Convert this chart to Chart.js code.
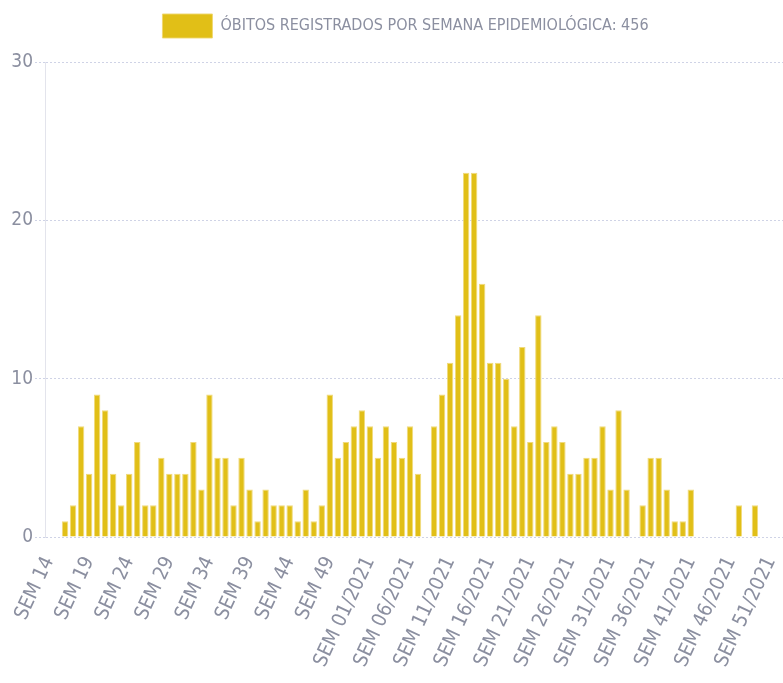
<!DOCTYPE html>
<html>
<head>
<meta charset="utf-8">
<script src="https://cdn.jsdelivr.net/npm/chart.js@4.4.1/dist/chart.umd.min.js"></script>
<style>
  html, body { margin: 0; padding: 0; background: #fff; overflow: hidden; }
</style>
</head>
<body>
<canvas id="myChart" width="783" height="683"></canvas>
<script>
// semanas epidemiológicas (2020 tem 53 semanas)
const weeks = [
  'SEM 14', 'SEM 15', 'SEM 16', 'SEM 17', 'SEM 18', 'SEM 19', 'SEM 20', 'SEM 21', 'SEM 22', 'SEM 23',
  'SEM 24', 'SEM 25', 'SEM 26', 'SEM 27', 'SEM 28', 'SEM 29', 'SEM 30', 'SEM 31', 'SEM 32', 'SEM 33',
  'SEM 34', 'SEM 35', 'SEM 36', 'SEM 37', 'SEM 38', 'SEM 39', 'SEM 40', 'SEM 41', 'SEM 42', 'SEM 43',
  'SEM 44', 'SEM 45', 'SEM 46', 'SEM 47', 'SEM 48', 'SEM 49', 'SEM 50', 'SEM 51', 'SEM 52', 'SEM 53',
  'SEM 01/2021', 'SEM 02/2021', 'SEM 03/2021', 'SEM 04/2021', 'SEM 05/2021', 'SEM 06/2021',
  'SEM 07/2021', 'SEM 08/2021', 'SEM 09/2021', 'SEM 10/2021', 'SEM 11/2021', 'SEM 12/2021',
  'SEM 13/2021', 'SEM 14/2021', 'SEM 15/2021', 'SEM 16/2021', 'SEM 17/2021', 'SEM 18/2021',
  'SEM 19/2021', 'SEM 20/2021', 'SEM 21/2021', 'SEM 22/2021', 'SEM 23/2021', 'SEM 24/2021',
  'SEM 25/2021', 'SEM 26/2021', 'SEM 27/2021', 'SEM 28/2021', 'SEM 29/2021', 'SEM 30/2021',
  'SEM 31/2021', 'SEM 32/2021', 'SEM 33/2021', 'SEM 34/2021', 'SEM 35/2021', 'SEM 36/2021',
  'SEM 37/2021', 'SEM 38/2021', 'SEM 39/2021', 'SEM 40/2021', 'SEM 41/2021', 'SEM 42/2021',
  'SEM 43/2021', 'SEM 44/2021', 'SEM 45/2021', 'SEM 46/2021', 'SEM 47/2021', 'SEM 48/2021',
  'SEM 49/2021', 'SEM 50/2021', 'SEM 51/2021', 'SEM 52/2021'
];

const obitos = [
  0, 0, 1, 2, 7, 4, 9, 8, 4, 2,
  4, 6, 2, 2, 5, 4, 4, 4, 6, 3,
  9, 5, 5, 2, 5, 3, 1, 3, 2, 2,
  2, 1, 3, 1, 2, 9, 5, 6, 7, 8,
  7, 5, 7, 6, 5, 7, 4, 0, 7, 9,
  11, 14, 23, 23, 16, 11, 11, 10, 7, 12,
  6, 14, 6, 7, 6, 4, 4, 5, 5, 7,
  3, 8, 3, 0, 2, 5, 5, 3, 1, 1,
  3, 0, 0, 0, 0, 0, 2, 0, 2, 0,
  0, 0
];

const yTicks = [0, 10, 20, 30];
const legendText = 'ÓBITOS REGISTRADOS POR SEMANA EPIDEMIOLÓGICA: 456';

const FONT = '"DejaVu Sans Condensed", "Liberation Sans Narrow", Roboto, sans-serif';
const GREY = '#8b8fa0';
const GOLD = '#e1bf17';

// move a legenda um pouco (o original não fica centrado no canvas)
const legendShift = {
    id: 'legendShift',
    afterLayout(chart) {
        const lg = chart.legend;
        lg.left += 14; lg.right += 14;
        lg.top -= 14; lg.bottom -= 14;
    }
};

const ctx = document.getElementById('myChart').getContext('2d');
const myChart = new Chart(ctx, {
    type: 'bar',
    data: {
        labels: weeks,
        datasets: [{
            label: legendText,
            data: obitos,
            backgroundColor: GOLD,
            borderColor: 'rgba(238, 214, 110, 0.9)',
            borderWidth: 1,
            categoryPercentage: 1,
            barPercentage: 0.8
        }]
    },
    plugins: [legendShift],
    options: {
        responsive: false,
        animation: false,
        layout: { padding: { left: 0, right: 0, top: 16, bottom: 0 } },
        plugins: {
            tooltip: { enabled: false },
            legend: {
                labels: {
                    boxWidth: 50,
                    boxHeight: 24,
                    padding: 12,
                    color: GREY,
                    font: { family: FONT, size: 16 }
                }
            }
        },
        scales: {
            x: {
                grid: { display: false },
                border: { display: false },
                ticks: {
                    autoSkip: false,
                    minRotation: 65,
                    maxRotation: 65,
                    padding: 8,
                    color: GREY,
                    font: { family: FONT, size: 20 },
                    callback: (v, i) => (i % 5 === 0 ? weeks[i] : '')
                },
                afterFit: (scale) => {
                    scale.height = 146;
                    scale.paddingLeft = 0;
                    scale.paddingRight = 0;
                }
            },
            y: {
                min: 0,
                max: 30,
                afterBuildTicks: (scale) => { scale.ticks = yTicks.map(v => ({ value: v })); },
                ticks: {
                    padding: 2,
                    color: GREY,
                    font: { family: FONT, size: 19 }
                },
                grid: {
                    color: '#cfd3e6',
                    tickLength: 10,
                    tickBorderDash: [2, 2]
                },
                border: { display: true, color: '#e3e4ec', dash: [2, 2] },
                afterFit: (scale) => { scale.width = 45; }
            }
        }
    }
});
</script>
</body>
</html>
